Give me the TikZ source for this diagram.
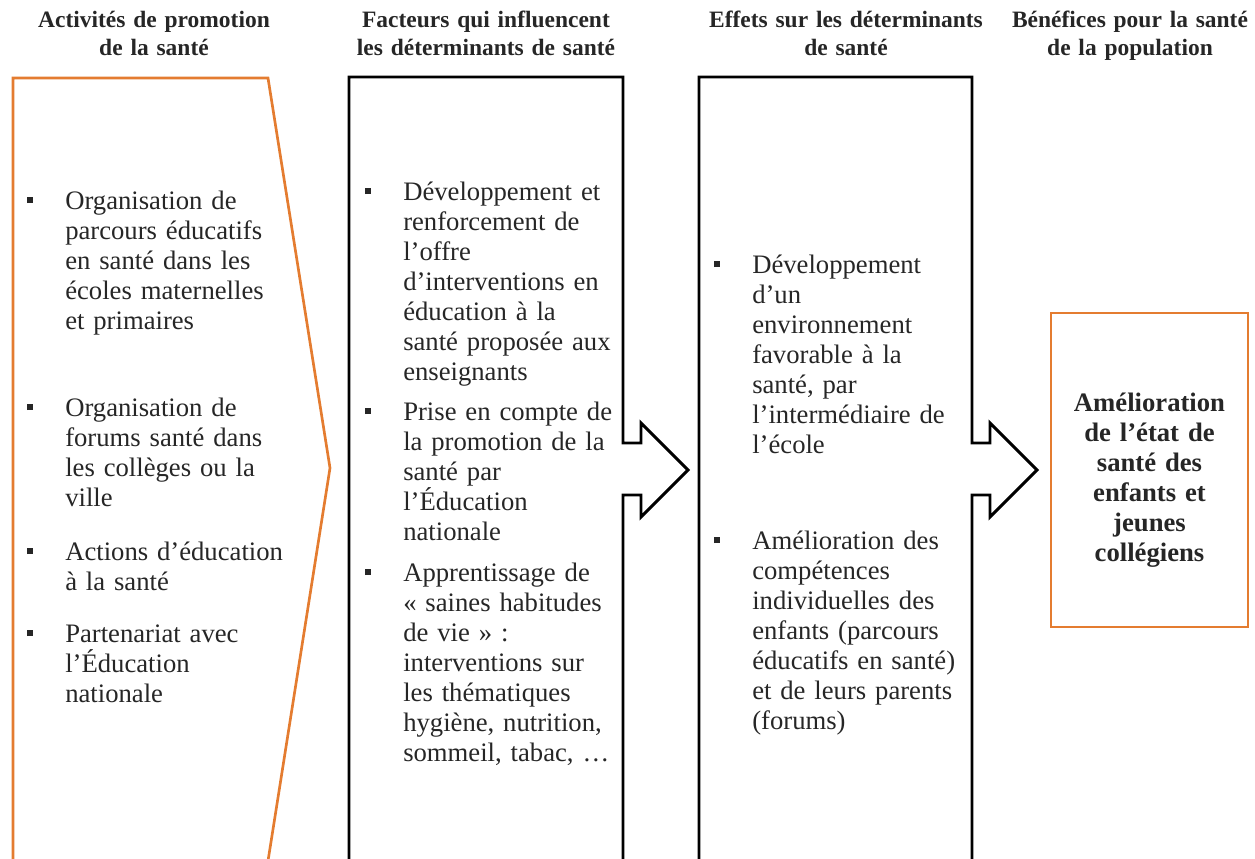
\documentclass[tikz,border=0pt]{standalone}
\usepackage{fontspec}
\setmainfont{Liberation Serif}
\definecolor{orangeline}{RGB}{228,124,48}
\definecolor{textgray}{RGB}{38,38,38}
% small square bullet hanging left of the first line
\newcommand{\puce}{\leavevmode\llap{\rule[4.5pt]{4.5pt}{4.5pt}\hspace{24pt}}}

\begin{document}
\begin{tikzpicture}[x=0.75pt,y=-0.75pt]

      \tikzset{heading/.style={font=\bfseries\fontsize{17.6pt}{21pt}\selectfont, text width=220pt, align=center, anchor=base, inner sep=0pt, text=textgray},
               itemtext/.style={font=\fontsize{20pt}{22.5pt}\selectfont, text width=200pt, align=left, anchor=base west, inner sep=0pt, text=textgray},
               resulttext/.style={font=\bfseries\fontsize{20pt}{22.5pt}\selectfont, text width=140pt, align=center, anchor=base, inner sep=0pt, text=textgray},
               blackframe/.style={draw=black, line width=2.2pt},
               orangeframe/.style={draw=orangeline, line width=2pt}}

      \useasboundingbox (0,0) rectangle (1255,858);
      \clip (0,0) rectangle (1255,858);

%% Headings
      \node[heading] (h1) at (154,27) {Activités de promotion\\de la santé};
      \node[heading] (h2) at (486,27) {Facteurs qui influencent\\les déterminants de santé};
      \node[heading] (h3) at (846,27) {Effets sur les déterminants\\de santé};
      \node[heading] (h4) at (1130,27) {Bénéfices pour la santé\\de la population};

%% Frames
      \draw[orangeframe] (13,880) -- (13,78) -- (268,78) -- (330,468) -- (265,880);
      \draw[blackframe] (349,880) -- (349,77) -- (623,77) -- (623,443) -- (641,443) -- (641,423)
            -- (688,470) -- (641,517) -- (641,495) -- (623,495) -- (623,880);
      \draw[blackframe] (699,880) -- (699,77) -- (972,77) -- (972,443) -- (990,443) -- (990,423)
            -- (1037,470) -- (990,517) -- (990,495) -- (972,495) -- (972,880);
      \node[orangeframe, minimum width=147.75pt, minimum height=235.5pt, inner sep=0pt] (benefice) at (1149.5,470) {};

%% Activities
      \node[itemtext] (a1) at (65,209) {\puce Organisation de\\parcours éducatifs\\en santé dans les\\écoles maternelles\\et primaires};
      \node[itemtext] (a2) at (65,416) {\puce Organisation de\\forums santé dans\\les collèges ou la\\ville};
      \node[itemtext] (a3) at (65,560) {\puce Actions d’éducation\\à la santé};
      \node[itemtext] (a4) at (65,642) {\puce Partenariat avec\\l’Éducation\\nationale};

%% Factors
      \node[itemtext] (b1) at (403,200) {\puce Développement et\\renforcement de\\l’offre\\d’interventions en\\éducation à la\\santé proposée aux\\enseignants};
      \node[itemtext] (b2) at (403,420) {\puce Prise en compte de\\la promotion de la\\santé par\\l’Éducation\\nationale};
      \node[itemtext] (b3) at (403,581) {\puce Apprentissage de\\« saines habitudes\\de vie » :\\interventions sur\\les thématiques\\hygiène, nutrition,\\sommeil, tabac, …};

%% Effects
      \node[itemtext] (c1) at (752,273) {\puce Développement\\d’un\\environnement\\favorable à la\\santé, par\\l’intermédiaire de\\l’école};
      \node[itemtext] (c2) at (752,549) {\puce Amélioration des\\compétences\\individuelles des\\enfants (parcours\\éducatifs en santé)\\et de leurs parents\\(forums)};

%% Benefit
      \node[resulttext] (d1) at (1149.5,411) {Amélioration\\de l’état de\\santé des\\enfants et\\jeunes\\collégiens};
	\end{tikzpicture}
\end{document}
